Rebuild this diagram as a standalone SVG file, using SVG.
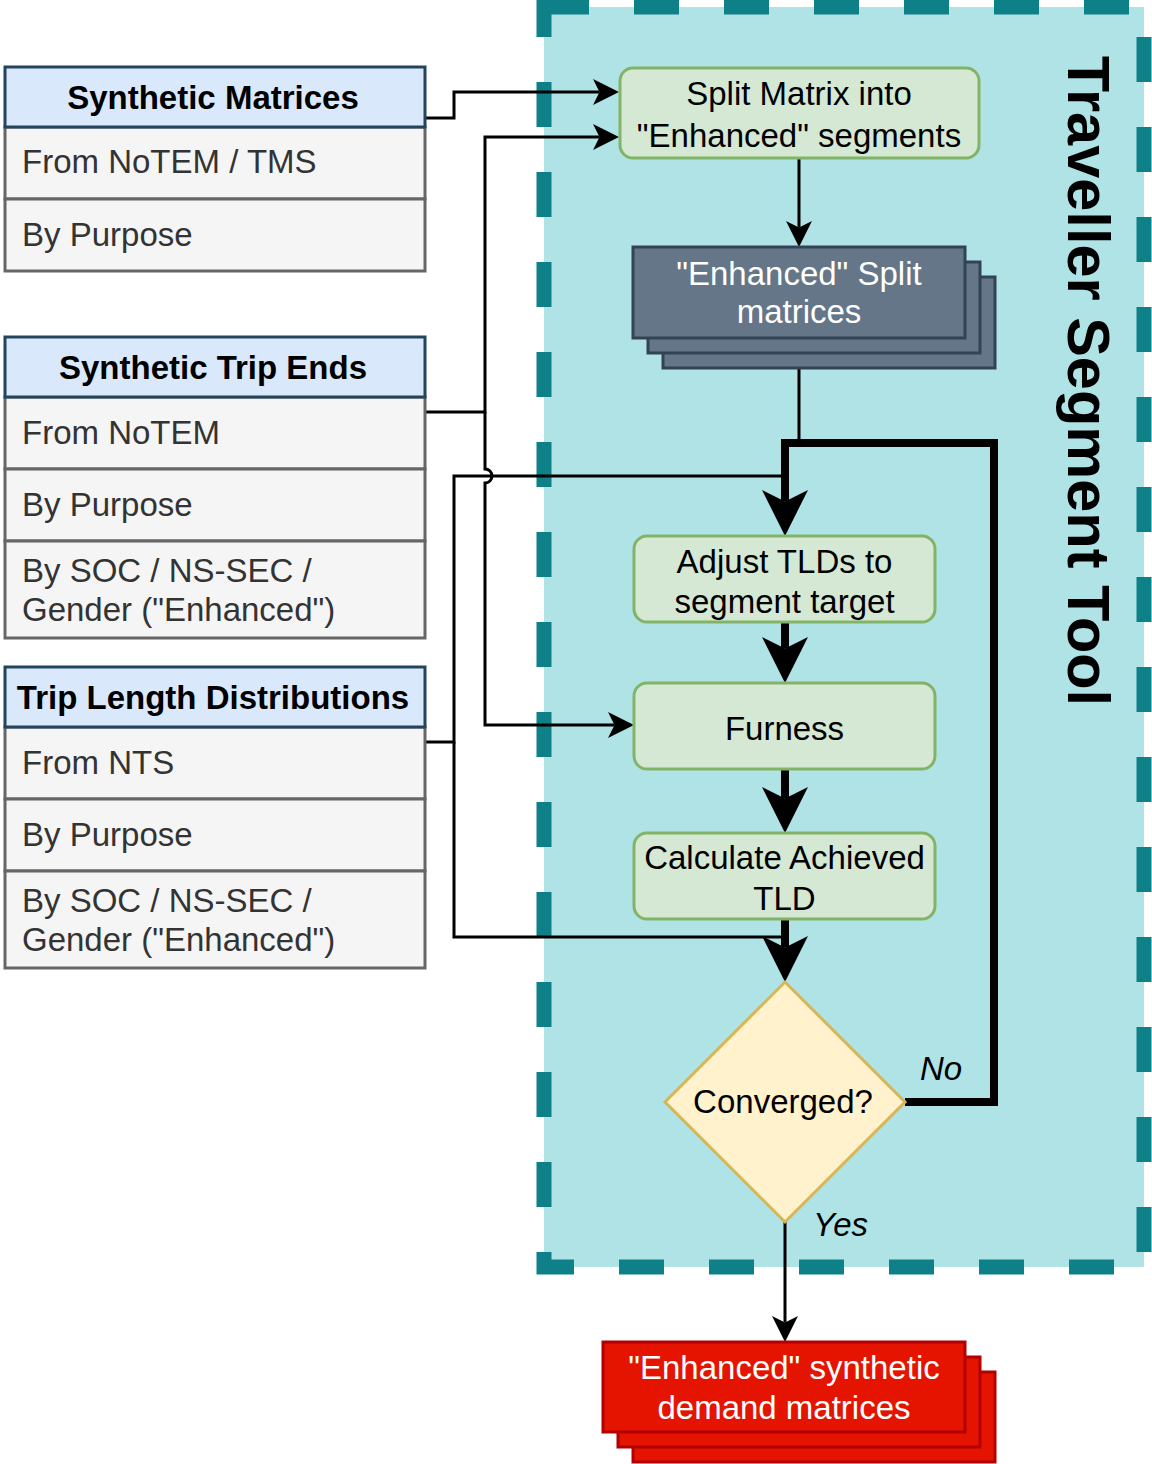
<svg xmlns="http://www.w3.org/2000/svg" width="1152" height="1464" viewBox="0 0 1152 1464">
<style>
text{font-family:"Liberation Sans",Arial,sans-serif;font-size:33px}
.hdr{fill:#dae8fc;stroke:#23445d;stroke-width:3}
.row{fill:#f5f5f5;stroke:#666666;stroke-width:3}
.ht{font-weight:bold;text-anchor:middle;fill:#000}
.rt{fill:#333333}
.green{fill:#d5e8d4;stroke:#82b366;stroke-width:3}
.slate{fill:#647687;stroke:#314354;stroke-width:3}
.red{fill:#e51400;stroke:#b20000;stroke-width:3}
.ct{text-anchor:middle;fill:#000}
.wt{text-anchor:middle;fill:#ffffff}
.thin{fill:none;stroke:#000;stroke-width:3;stroke-linejoin:miter}
.thick{fill:none;stroke:#000;stroke-width:8;stroke-linejoin:miter}
.it{font-style:italic;fill:#000}
</style>
<defs>
<marker id="aThin" markerUnits="userSpaceOnUse" viewBox="-8 -15 30 30" refX="0" refY="0" markerWidth="30" markerHeight="30" orient="auto"><path d="M19.5,0 L-6.5,-13 L0,0 L-6.5,13 Z" fill="#000"/></marker>
<marker id="aThick" markerUnits="userSpaceOnUse" viewBox="-14 -25 52 50" refX="0" refY="0" markerWidth="52" markerHeight="50" orient="auto"><path d="M34.5,0 L-11.5,-23 L0,0 L-11.5,23 Z" fill="#000"/></marker>
</defs>
<rect width="1152" height="1464" fill="#ffffff"/>

<g id="container">
<rect x="544" y="7" width="600" height="1260" fill="#b0e3e6" stroke="#0e8088" stroke-width="15" stroke-dasharray="45 45"/>
<text transform="translate(1068,381) rotate(90)" text-anchor="middle" font-weight="bold" style="font-size:59.5px">Traveller Segment Tool</text>
</g>

<g id="connectors">
<path class="thin" d="M426,118 H454 V92 H599.5" marker-end="url(#aThin)"/>
<path class="thin" d="M426,412 H485 V137 H599.5" marker-end="url(#aThin)"/>
<path class="thin" d="M485,412 V469 A7,7 0 0 1 485,483 V725 H614.5" marker-end="url(#aThin)"/>
<path class="thin" d="M426,742 H454 V476 H782"/>
<path class="thin" d="M454,742 V937 H782"/>
<path class="thin" d="M799,158 V227.5" marker-end="url(#aThin)"/>
<path class="thin" d="M799,338 V443"/>
<path class="thick" d="M905,1102 H994 V443 H785 V501.5" marker-end="url(#aThick)"/>
<path class="thick" d="M785,622 V648.5" marker-end="url(#aThick)"/>
<path class="thick" d="M785,769 V798.5" marker-end="url(#aThick)"/>
<path class="thick" d="M785,919 V947.5" marker-end="url(#aThick)"/>
<path class="thin" d="M785,1222 V1322.5" marker-end="url(#aThin)"/>
<text class="it" x="920" y="1080">No</text>
<text class="it" x="813" y="1236">Yes</text>
</g>

<g id="synthetic-matrices">
<rect class="row" x="5" y="127" width="420" height="72"/>
<rect class="row" x="5" y="199" width="420" height="72"/>
<rect class="hdr" x="5" y="67" width="420" height="60"/>
<text class="ht" x="213" y="109">Synthetic Matrices</text>
<text class="rt" x="22" y="173">From NoTEM / TMS</text>
<text class="rt" x="22" y="246">By Purpose</text>
</g>

<g id="synthetic-trip-ends">
<rect class="row" x="5" y="397" width="420" height="72"/>
<rect class="row" x="5" y="469" width="420" height="72"/>
<rect class="row" x="5" y="541" width="420" height="97"/>
<rect class="hdr" x="5" y="337" width="420" height="60"/>
<text class="ht" x="213" y="379">Synthetic Trip Ends</text>
<text class="rt" x="22" y="444">From NoTEM</text>
<text class="rt" x="22" y="516">By Purpose</text>
<text class="rt" x="22" y="582">By SOC / NS-SEC /</text>
<text class="rt" x="22" y="621">Gender ("Enhanced")</text>
</g>

<g id="trip-length-distributions">
<rect class="row" x="5" y="727" width="420" height="72"/>
<rect class="row" x="5" y="799" width="420" height="72"/>
<rect class="row" x="5" y="871" width="420" height="97"/>
<rect class="hdr" x="5" y="667" width="420" height="60"/>
<text class="ht" x="213" y="709">Trip Length Distributions</text>
<text class="rt" x="22" y="774">From NTS</text>
<text class="rt" x="22" y="846">By Purpose</text>
<text class="rt" x="22" y="912">By SOC / NS-SEC /</text>
<text class="rt" x="22" y="951">Gender ("Enhanced")</text>
</g>

<g id="split-matrix">
<rect class="green" x="620" y="68" width="359" height="90" rx="13"/>
<text class="ct" x="799" y="105">Split Matrix into</text>
<text class="ct" x="799" y="147">"Enhanced" segments</text>
</g>

<g id="enhanced-split-matrices">
<rect class="slate" x="663" y="277" width="332" height="91"/>
<rect class="slate" x="648" y="262" width="332" height="91"/>
<rect class="slate" x="633" y="247" width="332" height="91"/>
<text class="wt" x="799" y="285">"Enhanced" Split</text>
<text class="wt" x="799" y="323">matrices</text>
</g>

<g id="adjust-tlds">
<rect class="green" x="634" y="536" width="301" height="86" rx="13"/>
<text class="ct" x="784.5" y="573">Adjust TLDs to</text>
<text class="ct" x="784.5" y="613">segment target</text>
</g>

<g id="furness">
<rect class="green" x="634" y="683" width="301" height="86" rx="13"/>
<text class="ct" x="784.5" y="740">Furness</text>
</g>

<g id="calculate-tld">
<rect class="green" x="634" y="833" width="301" height="86" rx="13"/>
<text class="ct" x="784.5" y="869">Calculate Achieved</text>
<text class="ct" x="784.5" y="910">TLD</text>
</g>

<g id="converged">
<polygon points="785,982 905,1102 785,1222 665,1102" fill="#fff2cc" stroke="#d6b656" stroke-width="3"/>
<text class="ct" x="783" y="1113">Converged?</text>
</g>

<g id="enhanced-demand-matrices">
<rect class="red" x="633" y="1372" width="362" height="90"/>
<rect class="red" x="618" y="1357" width="362" height="90"/>
<rect class="red" x="603" y="1342" width="362" height="90"/>
<text class="wt" x="784" y="1379">"Enhanced" synthetic</text>
<text class="wt" x="784" y="1419">demand matrices</text>
</g>
</svg>
